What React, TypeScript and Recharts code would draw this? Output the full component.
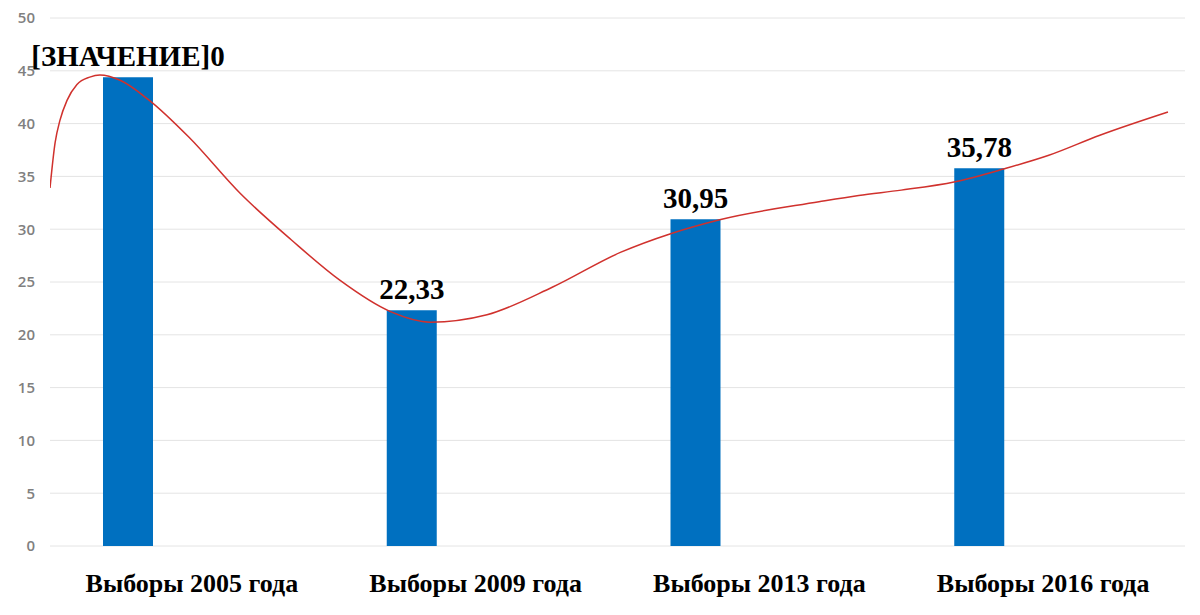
import {
    Bar,
    CartesianGrid,
    ComposedChart,
    LabelList,
    Line,
    XAxis,
    YAxis,
} from "recharts";

const categories = [
    "Выборы 2005 года",
    "Выборы 2009 года",
    "Выборы 2013 года",
    "Выборы 2016 года",
];
const votes = [44.4, 22.33, 30.95, 35.78];
const voteLabels = ["[ЗНАЧЕНИЕ]0", "22,33", "30,95", "35,78"];
const yTicks = [0, 5, 10, 15, 20, 25, 30, 35, 40, 45, 50];

// red trend curve (x in category widths from the left edge)
const trendX = [0, 0.018, 0.035, 0.06, 0.095, 0.14, 0.176, 0.247, 0.35, 0.49, 0.67, 0.85, 1.02, 1.2, 1.34, 1.54, 1.77, 2.01, 2.19, 2.36, 2.71, 2.85, 3.0, 3.19, 3.36, 3.52, 3.7, 3.94];
const trendY = [33.9, 38.2, 40.3, 42.2, 43.7, 44.4, 44.6, 44.1, 42.2, 38.7, 33.4, 29.0, 25.2, 22.2, 21.2, 21.9, 24.5, 27.8, 29.6, 30.9, 32.6, 33.2, 33.7, 34.5, 35.7, 37.0, 38.9, 41.1];

const data = categories.map((name, i) => ({
    name,
    votes: votes[i],
    label: voteLabels[i],
}));

const trend = trendX.map((x, i) => ({ x, y: trendY[i] }));

export default function App() {
    return (
        <div style={{ width: 1184, height: 607 }}>
            <ComposedChart
                width={1184}
                height={607}
                data={data}
                barSize={50}
                barGap={78}
                margin={{ top: 10, right: 7, left: 12, bottom: 9 }}
            >
                <CartesianGrid vertical={false} stroke="#e4e4e4" />
                <XAxis
                    dataKey="name"
                    axisLine={false}
                    tickLine={false}
                    height={60}
                    tickMargin={22}
                    interval={0}
                    tick={{
                        fill: "#000",
                        fontSize: 26,
                        fontWeight: "bold",
                        fontFamily: "Liberation Serif",
                    }}
                />
                <XAxis
                    xAxisId="trend"
                    type="number"
                    dataKey="x"
                    domain={[0, 4]}
                    allowDataOverflow
                    hide
                />
                <YAxis
                    domain={[0, 50]}
                    ticks={yTicks}
                    interval={0}
                    width={30}
                    axisLine={false}
                    tickLine={false}
                    tickSize={0}
                    tickMargin={15}
                    tick={{
                        fill: "#808080",
                        fontSize: 15,
                        fontWeight: 600,
                        fontFamily: "Open Sans",
                    }}
                />
                <Bar dataKey="votes" fill="#0070C0" isAnimationActive={false}>
                    <LabelList
                        dataKey="label"
                        position="top"
                        offset={11}
                        fill="#000"
                        fontSize={29}
                        fontWeight="bold"
                        fontFamily="Liberation Serif"
                    />
                </Bar>
                <Bar dataKey="reserve" fill="#ED7D31" isAnimationActive={false} />
                <Line
                    xAxisId="trend"
                    data={trend}
                    dataKey="y"
                    type="monotone"
                    stroke="#d0312d"
                    strokeWidth={1.5}
                    dot={false}
                    activeDot={false}
                    isAnimationActive={false}
                />
            </ComposedChart>
        </div>
    );
}
